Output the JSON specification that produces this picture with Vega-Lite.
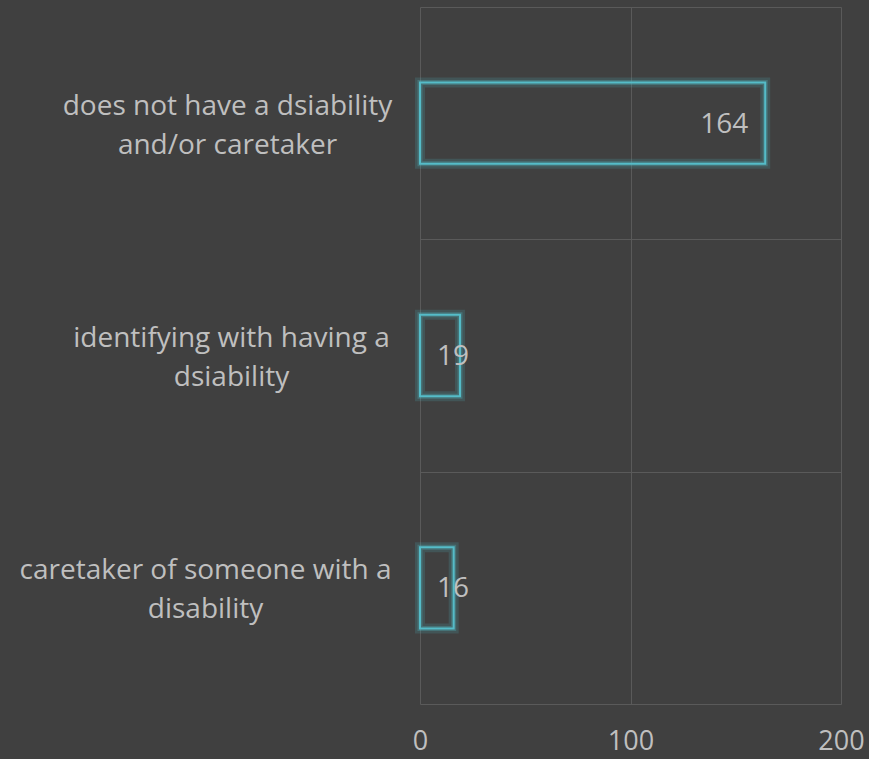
{
  "$schema": "https://vega.github.io/schema/vega-lite/v6.json",
  "width": 421,
  "height": 697,
  "autosize": {"type": "none"},
  "padding": {"left": 420, "top": 7, "right": 28, "bottom": 55},
  "background": "#404040",
  "config": {
    "view": {"stroke": null},
    "font": "Open Sans"
  },
  "data": {
    "values": [
      {"category": "does not have a dsiability\nand/or caretaker", "count": 164},
      {"category": "identifying with having a\ndsiability", "count": 19},
      {"category": "caretaker of someone with a\ndisability", "count": 16}
    ]
  },
  "encoding": {
    "y": {
      "field": "category",
      "type": "nominal",
      "sort": null,
      "scale": {"paddingInner": 0, "paddingOuter": 0},
      "axis": {
        "title": null,
        "domain": false,
        "ticks": false,
        "grid": true,
        "tickBand": "extent",
        "gridColor": "#5a5a5a",
        "gridWidth": 1,
        "labelExpr": "isValid(datum.value) ? split(datum.value, '\\n') : ''",
        "labelFont": "Open Sans",
        "labelFontSize": 28,
        "labelColor": "#bfbfbf",
        "labelLineHeight": 39,
        "labelOffset": -17,
        "labelPadding": {
          "condition": [
            {"test": "indexof(datum.value || '', 'does not') == 0", "value": 193},
            {"test": "indexof(datum.value || '', 'identifying') == 0", "value": 189}
          ],
          "value": 215
        },
        "labelAlign": "center",
        "labelLimit": 420
      }
    }
  },
  "layer": [
    {
      "mark": {"type": "bar", "fill": "#404040", "fillOpacity": 0, "stroke": "#4fb8c4", "strokeWidth": 10, "strokeOpacity": 0.18, "height": {"band": 0.35}},
      "encoding": {
        "x": {
          "field": "count",
          "type": "quantitative",
          "scale": {"domain": [0, 200]},
          "axis": {
            "title": null,
            "values": [0, 100, 200],
            "domain": false,
            "ticks": false,
            "grid": true,
            "gridColor": "#5a5a5a",
            "gridWidth": 1,
            "labelFont": "Open Sans",
            "labelFontSize": 27,
            "labelColor": "#bfbfbf",
            "labelPadding": 24,
            "labelFlush": false
          }
        }
      }
    },
    {
      "mark": {"type": "bar", "fill": "#404040", "fillOpacity": 0, "stroke": "#4fb8c4", "strokeWidth": 5, "strokeOpacity": 0.3, "height": {"band": 0.35}},
      "encoding": {
        "x": {"field": "count", "type": "quantitative"}
      }
    },
    {
      "mark": {"type": "bar", "fillOpacity": 0, "fill": "#404040", "stroke": "#55bcc8", "strokeWidth": 2, "height": {"band": 0.35}},
      "encoding": {
        "x": {"field": "count", "type": "quantitative"}
      }
    },
    {
      "transform": [{"filter": "datum.count > 50"}],
      "mark": {"type": "text", "align": "right", "baseline": "middle", "dx": -17, "dy": 2, "fontSize": 28, "font": "Open Sans", "color": "#bfbfbf"},
      "encoding": {
        "x": {"field": "count", "type": "quantitative"},
        "text": {"field": "count", "type": "quantitative"}
      }
    },
    {
      "transform": [{"filter": "datum.count <= 50"}],
      "mark": {"type": "text", "align": "left", "baseline": "middle", "dx": 17, "dy": 1, "fontSize": 28, "font": "Open Sans", "color": "#bfbfbf"},
      "encoding": {
        "x": {"datum": 0, "type": "quantitative"},
        "text": {"field": "count", "type": "quantitative"}
      }
    }
  ]
}
